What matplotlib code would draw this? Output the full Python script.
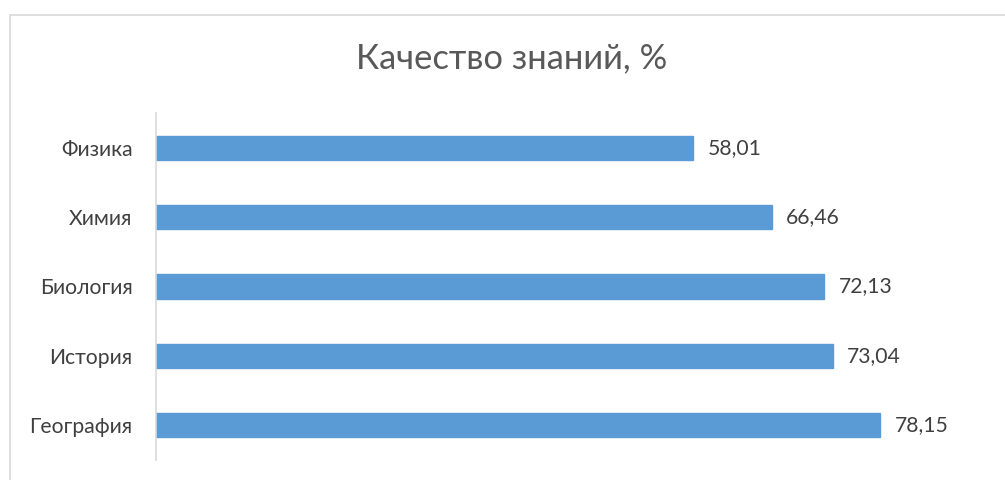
import matplotlib
matplotlib.use("Agg")
import matplotlib.pyplot as plt
from matplotlib.patches import Rectangle

categories = ["Физика", "Химия", "Биология", "История", "География"]
values = [58.01, 66.46, 72.13, 73.04, 78.15]
value_labels = ["58,01", "66,46", "72,13", "73,04", "78,15"]
title = "Качество знаний, %"

W, H = 1005, 480
fig = plt.figure(figsize=(W / 100, H / 100), dpi=100)
fig.patch.set_facecolor("white")
plt.rcParams['font.family'] = ['Lato', 'DejaVu Sans']

# chart border
fig.add_artist(Rectangle((9.5 / W, -0.05), 1.1, (H - 14.5) / H + 0.05,
                         transform=fig.transFigure, fill=False,
                         edgecolor="#d9d9d9", linewidth=1.2))

ax = fig.add_axes([155.5 / W, 1 - 460 / H, (990 - 155.5) / W, (460 - 113) / H])
y = list(range(len(categories)))
ax.barh(y, values, height=0.35, color="#5b9bd5", edgecolor="#5b9bd5")
ax.set_xlim(0, 90)
ax.set_ylim(len(categories) - 0.5, -0.5)
ax.set_yticks(y)
ax.set_yticklabels(categories, fontsize=15.2, color="#404040")
ax.tick_params(axis="y", length=0, pad=16.5)
ax.set_xticks([])
for s in ["top", "right", "bottom"]:
    ax.spines[s].set_visible(False)
ax.spines["left"].set_color("#d9d9d9")
ax.spines["left"].set_linewidth(1.2)

for yi, v, lab in zip(y, values, value_labels):
    ax.annotate(lab, (v, yi), xytext=(10.5, 0), textcoords="offset points",
                va="center", ha="left", fontsize=15.2, color="#404040")

fig.text(512 / W, 1 - 58 / H, title, ha="center", va="center",
         fontsize=24.8, color="#595959")

fig.savefig("out.png", dpi=100)
